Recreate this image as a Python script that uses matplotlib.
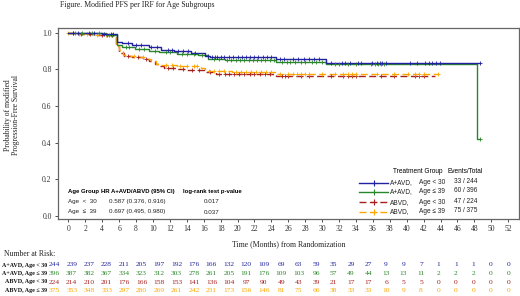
import numpy as np
import matplotlib
matplotlib.use("Agg")
import matplotlib.pyplot as plt
from matplotlib.lines import Line2D

# ---------------- data ----------------
group_arm = ["A+AVD,", "A+AVD,", "ABVD,", "ABVD,"]
group_age = ["Age < 30", "Age \u2264 39", "Age < 30", "Age \u2264 39"]
risk_labels = ["A+AVD, Age < 30", "A+AVD, Age \u2264 39", "ABVD, Age < 30", "ABVD, Age \u2264 39"]
events_total = ["33 / 244", "60 / 396", "47 / 224", "75 / 375"]

blue_t = [0, 1.5, 4.0, 5.8, 6.3, 7.5, 9.5, 11.0, 12.5, 14.5, 16.1, 16.8, 24.6, 30.5]
blue_s = [1.0, 0.996, 0.992, 0.950, 0.942, 0.932, 0.921, 0.908, 0.899, 0.892, 0.873, 0.868, 0.855, 0.836]
blue_end = 48.7
blue_c = [0.5, 1.2, 2.5, 3.0, 4.2, 5.0, 5.3, 7.0, 8.0, 8.6, 9.8, 10.5, 11.8, 12.2, 13.0, 13.6, 14.2,
          15.0, 16.5, 17.0, 17.3, 17.6, 18.0, 18.4, 19.0, 19.5, 20.0, 20.5, 21.0, 21.5, 22.0, 22.4,
          23.0, 23.5, 24.0, 25.0, 25.5, 26.5, 27.2, 27.8, 28.5, 29.0, 29.6, 31.0, 32.3, 32.7, 33.3,
          34.2, 34.6, 35.9, 36.5, 36.8, 37.1, 37.5, 40.4, 41.2, 42.2, 42.6, 43.0, 43.5, 43.9, 48.7]

green_t = [0, 2.0, 4.5, 5.8, 6.4, 7.9, 9.5, 10.7, 12.9, 15.3, 16.5, 18.5, 24.6, 30.5, 48.3]
green_s = [1.0, 0.996, 0.990, 0.935, 0.920, 0.913, 0.902, 0.893, 0.884, 0.876, 0.857, 0.851, 0.838, 0.828, 0.417]
green_end = 48.7
green_c = [0.8, 1.6, 2.8, 3.6, 4.8, 5.2, 6.8, 7.2, 8.4, 9.0, 10.2, 11.5, 12.0, 13.4, 14.0, 14.8,
           15.8, 17.2, 17.8, 18.8, 19.2, 19.8, 20.3, 20.8, 21.3, 21.8, 22.3, 22.8, 23.3, 23.8, 24.3,
           25.2, 25.8, 26.2, 26.8, 27.5, 28.0, 28.8, 29.3, 30.0, 31.5, 32.0, 33.0, 34.0, 35.8, 36.2,
           36.6, 36.9, 37.3, 48.7]

red_t = [0, 1.0, 3.0, 5.6, 6.0, 6.6, 7.5, 8.8, 9.5, 10.2, 10.8, 11.3, 12.9, 14.0, 16.1, 17.5, 24.6]
red_s = [1.0, 0.995, 0.990, 0.930, 0.889, 0.871, 0.866, 0.858, 0.844, 0.829, 0.816, 0.807, 0.802,
         0.795, 0.784, 0.776, 0.762]
red_end = 43.4
red_c = [0.6, 1.5, 2.6, 4.0, 4.6, 5.2, 7.0, 8.2, 9.2, 11.8, 12.4, 13.5, 14.6, 15.4, 16.8, 17.8,
         18.5, 19.0, 19.6, 20.2, 20.8, 21.5, 22.0, 22.6, 23.2, 23.8, 25.2, 25.6, 26.0, 27.5, 28.5,
         31.0, 32.5, 33.0, 33.5, 34.0, 37.0, 38.5, 41.0, 41.5, 42.0]

orange_t = [0, 1.0, 3.0, 5.6, 6.0, 6.5, 7.2, 8.4, 9.2, 9.8, 10.4, 10.8, 12.9, 15.7, 16.1, 19.3, 24.6]
orange_s = [1.0, 0.993, 0.989, 0.930, 0.907, 0.880, 0.871, 0.866, 0.858, 0.844, 0.829, 0.822,
            0.816, 0.807, 0.792, 0.788, 0.774]
orange_end = 43.7
orange_c = [0.0, 1.3, 2.2, 3.4, 4.4, 5.0, 7.8, 8.8, 11.5, 12.2, 13.2, 14.0, 14.8, 15.2, 16.6, 17.2,
            17.8, 18.4, 19.8, 20.4, 21.0, 21.6, 22.2, 22.8, 23.4, 24.0, 25.0, 26.0, 26.5, 27.0,
            27.5, 28.0, 28.5, 30.0, 31.5, 32.5, 33.0, 33.5, 34.0, 36.5, 38.5, 40.2, 41.0, 41.5,
            42.0, 43.7]

risk_times = list(range(0, 53, 2))
risk_blue = [244, 239, 237, 228, 211, 205, 197, 192, 176, 166, 132, 120, 109, 69, 63, 59, 35, 29, 27, 9, 9, 7, 1, 1, 1, 0, 0]
risk_green = [396, 387, 382, 367, 334, 323, 312, 303, 278, 261, 205, 191, 176, 109, 103, 96, 57, 49, 44, 13, 13, 11, 2, 2, 2, 0, 0]
risk_red = [224, 214, 210, 201, 176, 166, 158, 153, 141, 136, 104, 97, 90, 49, 43, 39, 21, 17, 17, 6, 5, 5, 0, 0, 0, 0, 0]
risk_orange = [375, 353, 348, 333, 297, 280, 269, 261, 242, 231, 173, 156, 146, 81, 75, 66, 38, 33, 33, 10, 9, 8, 0, 0, 0, 0, 0]

stat_header = ["Age Group", "HR A+AVD/ABVD (95% CI)", "log-rank test p-value"]
stat_rows = [["Age  <  30", "0.587 (0.376, 0.916)", "0.017"],
             ["Age  \u2264  39", "0.697 (0.495, 0.980)", "0.037"]]

# ---------------- styling ----------------
W, H = 520, 296
colors = ["#2222a0", "#2a862a", "#a61e1e", "#ffa500"]
dashes = [None, None, (5, 2.5), (5, 2.5)]
SERIF = ["Liberation Serif", "DejaVu Serif"]
SANS = ["Liberation Sans", "DejaVu Sans"]
FS_SANS = 4.5
FS_HDR = 4.3
FS_LEG = 4.7

def fx(px):
    return px / W

def fy(py):
    return 1 - py / H

fig = plt.figure(figsize=(W / 100, H / 100), dpi=100)
ax_l, ax_r, ax_t, ax_b = 58, 519, 28, 219
ax = fig.add_axes([fx(ax_l), fy(ax_b), (ax_r - ax_l) / W, (ax_b - ax_t) / H])

def surv(t, s, x):
    t = np.asarray(t); s = np.asarray(s)
    idx = np.searchsorted(t, np.asarray(x), side="right") - 1
    return s[idx]

series = [(blue_t, blue_s, blue_end, blue_c), (green_t, green_s, green_end, green_c),
          (red_t, red_s, red_end, red_c), (orange_t, orange_s, orange_end, orange_c)]
order = [2, 3, 1, 0]
for i in order:
    t, s, end, c = series[i]
    xs = list(t) + [end]
    ys = list(s) + [s[-1]]
    ln, = ax.step(xs, ys, where="post", color=colors[i], lw=1.0, zorder=3 + (i < 2))
    if dashes[i]:
        ln.set_dashes(dashes[i])
    ax.plot(c, surv(t, s, c), "+", color=colors[i], ms=2.6, mew=0.6, zorder=4 + (i < 2))

ax.set_xlim(-1.22, 53.27)
ax.set_ylim(-0.018, 1.026)
ax.set_xticks(risk_times)
ax.set_yticks(np.arange(0, 1.01, 0.2))
ax.set_yticklabels([f"{v:.1f}" for v in np.arange(0, 1.01, 0.2)])
for lab in ax.get_xticklabels() + ax.get_yticklabels():
    lab.set_fontfamily(SERIF)
    lab.set_fontsize(5.5)
    lab.set_color("#222222")
ax.tick_params(direction="out", length=2.5, width=0.6, pad=2, colors="#333333")
for sp in ax.spines.values():
    sp.set_color("#666666")
    sp.set_linewidth(0.9)

# titles / labels
fig.text(fx(60), fy(5), "Figure. Modified PFS per IRF for Age Subgroups", family=SERIF,
         fontsize=5.6, ha="left", va="center", color="#222222")
fig.text(fx(12), fy(115), "Probability of modified\nProgression-Free Survival", family=SERIF,
         fontsize=5.5, rotation=90, ha="center", va="center", color="#222222", linespacing=1.1)
fig.text(fx(288.5), fy(244), "Time (Months) from Randomization", family=SERIF, fontsize=5.6,
         ha="center", va="center", color="#222222")

# stats table
hdr_x = [68, 101, 183]
for hx, ht in zip(hdr_x, stat_header):
    fig.text(fx(hx), fy(191.5), ht, family=SANS, fontsize=FS_HDR, weight="bold",
             ha="left", va="center")
for r, (row, yy) in enumerate(zip(stat_rows, [201.5, 211.0])):
    fig.text(fx(68), fy(yy), row[0], family=SANS, fontsize=FS_SANS, ha="left", va="center", color="#222222")
    fig.text(fx(109), fy(yy), row[1], family=SANS, fontsize=FS_SANS, ha="left", va="center", color="#222222")
    fig.text(fx(212), fy(yy + 1.5 * r), row[2], family=SANS, fontsize=FS_SANS, ha="center", va="center",
             color="#222222")

# legend
fig.text(fx(393), fy(171.5), "Treatment Group", family=SANS, fontsize=FS_LEG, ha="left", va="center")
fig.text(fx(447), fy(171.5), "Events/Total", family=SANS, fontsize=FS_LEG, ha="left", va="center")
leg_y = [182.5, 191.7, 202.3, 211.7]
for i in range(4):
    ln = Line2D([fx(359), fx(388)], [fy(leg_y[i])] * 2, transform=fig.transFigure,
                color=colors[i], lw=1.0)
    if dashes[i]:
        ln.set_dashes(dashes[i])
    fig.add_artist(ln)
    fig.add_artist(Line2D([fx(374)], [fy(leg_y[i])], transform=fig.transFigure, marker="+",
                          color=colors[i], ms=4.5, mew=0.8, ls="none"))
    fig.text(fx(389.5), fy(leg_y[i]), group_arm[i], family=SANS, fontsize=FS_LEG, ha="left", va="center",
             color="#222222")
    fig.text(fx(419), fy(leg_y[i]), group_age[i], family=SANS, fontsize=FS_LEG, ha="left", va="center",
             color="#222222")
    fig.text(fx(454), fy(leg_y[i] - 1), events_total[i], family=SANS, fontsize=FS_LEG, ha="left",
             va="center", color="#222222")

# number at risk
fig.text(fx(4), fy(254), "Number at Risk:", family=SERIF, fontsize=5.6, ha="left", va="center",
         color="#222222")
risk_rows = [risk_blue, risk_green, risk_red, risk_orange]
row_y = [265, 273.5, 282, 290.5]
for i in range(4):
    fig.text(fx(47), fy(row_y[i]), risk_labels[i], family=SERIF, fontsize=4.3, weight="bold",
             ha="right", va="center", color="#111111")
    for j, v in enumerate(risk_rows[i]):
        fig.text(fx(54.3 + j * 17.46), fy(row_y[i]), str(v), family=SERIF, fontsize=5.4,
                 ha="center", va="center", color=colors[i])

fig.savefig("out.png", dpi=100)
